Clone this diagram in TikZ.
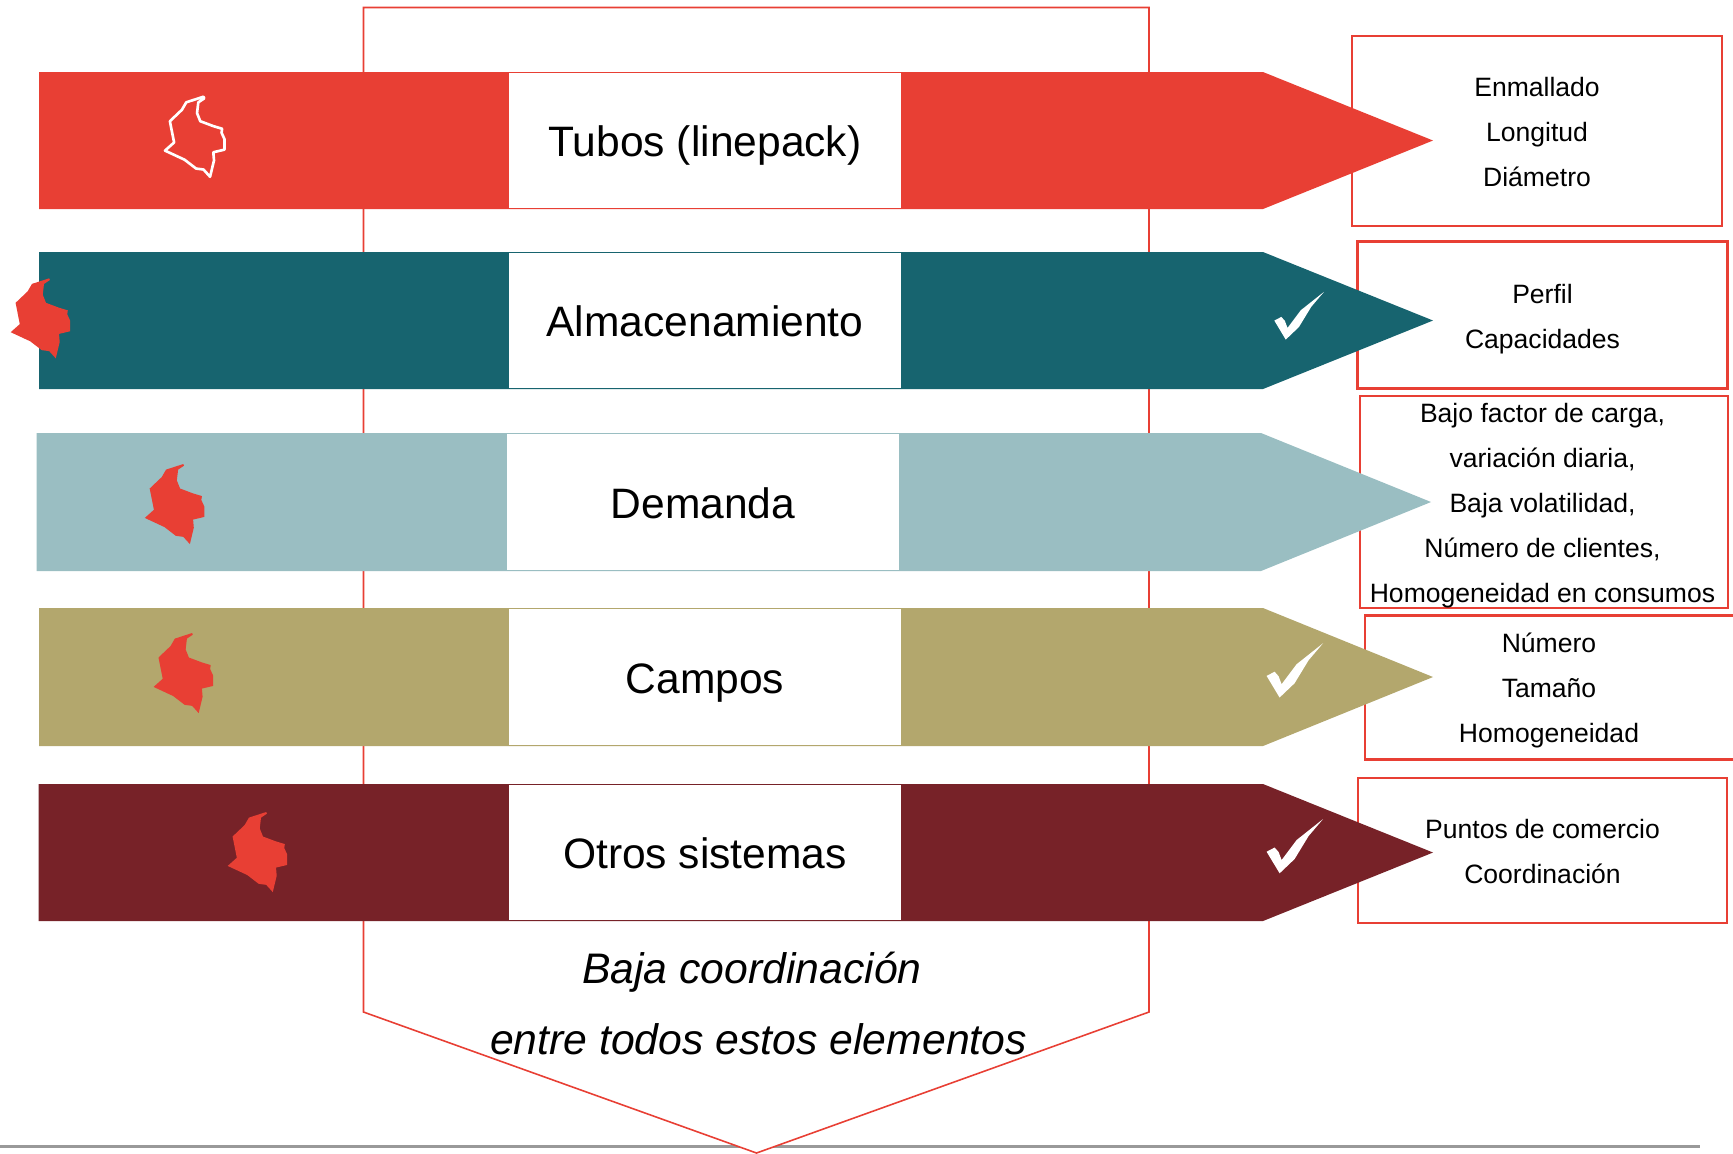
\documentclass[tikz,border=0pt]{standalone}
\usepackage{fontspec}
\setmainfont{Liberation Sans}
\definecolor{rojo}{HTML}{E83F34}
\definecolor{petroleo}{HTML}{17646F}
\definecolor{celeste}{HTML}{9ABEC2}
\definecolor{arena}{HTML}{B3A76D}
\definecolor{vino}{HTML}{772228}
\tikzset{
  cajalista/.style = {draw = rojo, line width = 0.65pt, fill = white, inner sep = 0pt},
  textolista/.style = {inner sep = 0pt, align = center, font = \fontsize{7.55}{12.82}\selectfont},
  titulo/.style = {fill = white, inner sep = 0pt, minimum width = 3.91cm, minimum height = 1.35cm, text height = 9.1pt, text depth = 0pt, font = \fontsize{12.1}{15}\selectfont},
  lema/.style = {inner sep = 0pt, font = \fontsize{12.15}{15}\selectfont\itshape},
  pics/mapa/.style = {code = {
    \path[pic actions, scale = 0.98] (39.3,0)--(40,1.7)--(34,5.7)--(32.7,16.7)--(36,25)--(49.3,30)--(58.3,32.7)--(57.7,36.7)--(60.7,43.3)--(60.7,54)--(49.3,56.7)--(50,65)--(46,81.7)--(39.3,74.3)--(31.7,73.3)--(20,64.3)--(0,55)--(9.3,46.7)--(7.3,36.7)--(5,25)--(17.3,13.3)--(21.7,5.7)--cycle;
  }},
  pics/visto/.style = {code = {
    \fill[white] (0,32.7)--(8,28.5)--(12,33)--(15,41)--(30,21)--(56.5,0)--(42,17)--(28,40)--(13,54.3)--cycle;
  }}
}
\begin{document}
\begin{tikzpicture}[x = 0.01cm, y = -0.01cm]
\useasboundingbox (0,0) rectangle (1733,1153);

\draw[black!40, line width = 0.9pt] (0,1146.5)--(1700,1146.5);
\draw[rojo, fill = white, line width = 0.45pt] (363.5,7.5)--(1149,7.5)--(1149,1012)--(756.5,1153)--(363.5,1012)--cycle;

\node[cajalista, minimum width = 3.70cm, minimum height = 1.90cm] (lista1) at (1537,131) {};
\node[cajalista, minimum width = 3.70cm, minimum height = 1.47cm] (lista2) at (1542.5,315) {};
\node[cajalista, minimum width = 3.68cm, minimum height = 2.12cm] (lista3) at (1544,502) {};
\node[cajalista, minimum width = 3.70cm, minimum height = 1.44cm] (lista4) at (1550,687.5) {};
\node[cajalista, minimum width = 3.69cm, minimum height = 1.45cm] (lista5) at (1542.5,850.5) {};

\fill[rojo] (39,72)--(1263,72)--(1433,140.5)--(1263,209)--(39,209)--cycle;
\fill[petroleo] (39,252)--(1263,252)--(1433,320.5)--(1263,389)--(39,389)--cycle;
\fill[celeste] (36.5,433)--(1261,433)--(1431,502)--(1261,571)--(36.5,571)--cycle;
\fill[arena] (39,608)--(1263,608)--(1433,677)--(1263,746)--(39,746)--cycle;
\fill[vino] (38.5,784)--(1263,784)--(1433,852.5)--(1263,921)--(38.5,921)--cycle;

\node[textolista] (enmallado) at (1537,132.1) {Enmallado\\Longitud\\Diámetro};
\node[textolista] (perfil) at (1542.5,319.4) {Perfil\\Capacidades};
\node[textolista] (factor) at (1542.5,505.4) {Bajo factor de carga,\\variación diaria,\\Baja volatilidad,\\Número de clientes,\\Homogeneidad en consumos};
\node[textolista] (numero) at (1549,690.3) {Número\\Tamaño\\Homogeneidad};
\node[textolista] (puntos) at (1542.5,851.6) {Puntos de comercio\\Coordinación};

\node[titulo] (tubos) at (705,140.5) {Tubos (linepack)};
\node[titulo] (almacen) at (705,320.5) {Almacenamiento};
\node[titulo] (demanda) at (703,502) {Demanda};
\node[titulo] (campos) at (705,677) {Campos};
\node[titulo] (otros) at (705,852.5) {Otros sistemas};

\pic[draw = white, line width = 0.75pt, line join = round] at (165,96.7) {mapa};
\pic[fill = rojo] at (10.7,278.3) {mapa};
\pic[fill = rojo] at (144.8,464) {mapa};
\pic[fill = rojo] at (153.6,633) {mapa};
\pic[fill = rojo] at (227.7,812) {mapa};

\pic[scale = 0.88] at (1274.3,291.8) {visto};
\pic at (1266.6,643.2) {visto};
\pic at (1266.6,819) {visto};

\node[lema] (baja) at (752,972) {Baja coordinación};
\node[lema] (entre) at (758.5,1039) {entre todos estos elementos};
\end{tikzpicture}
\end{document}
